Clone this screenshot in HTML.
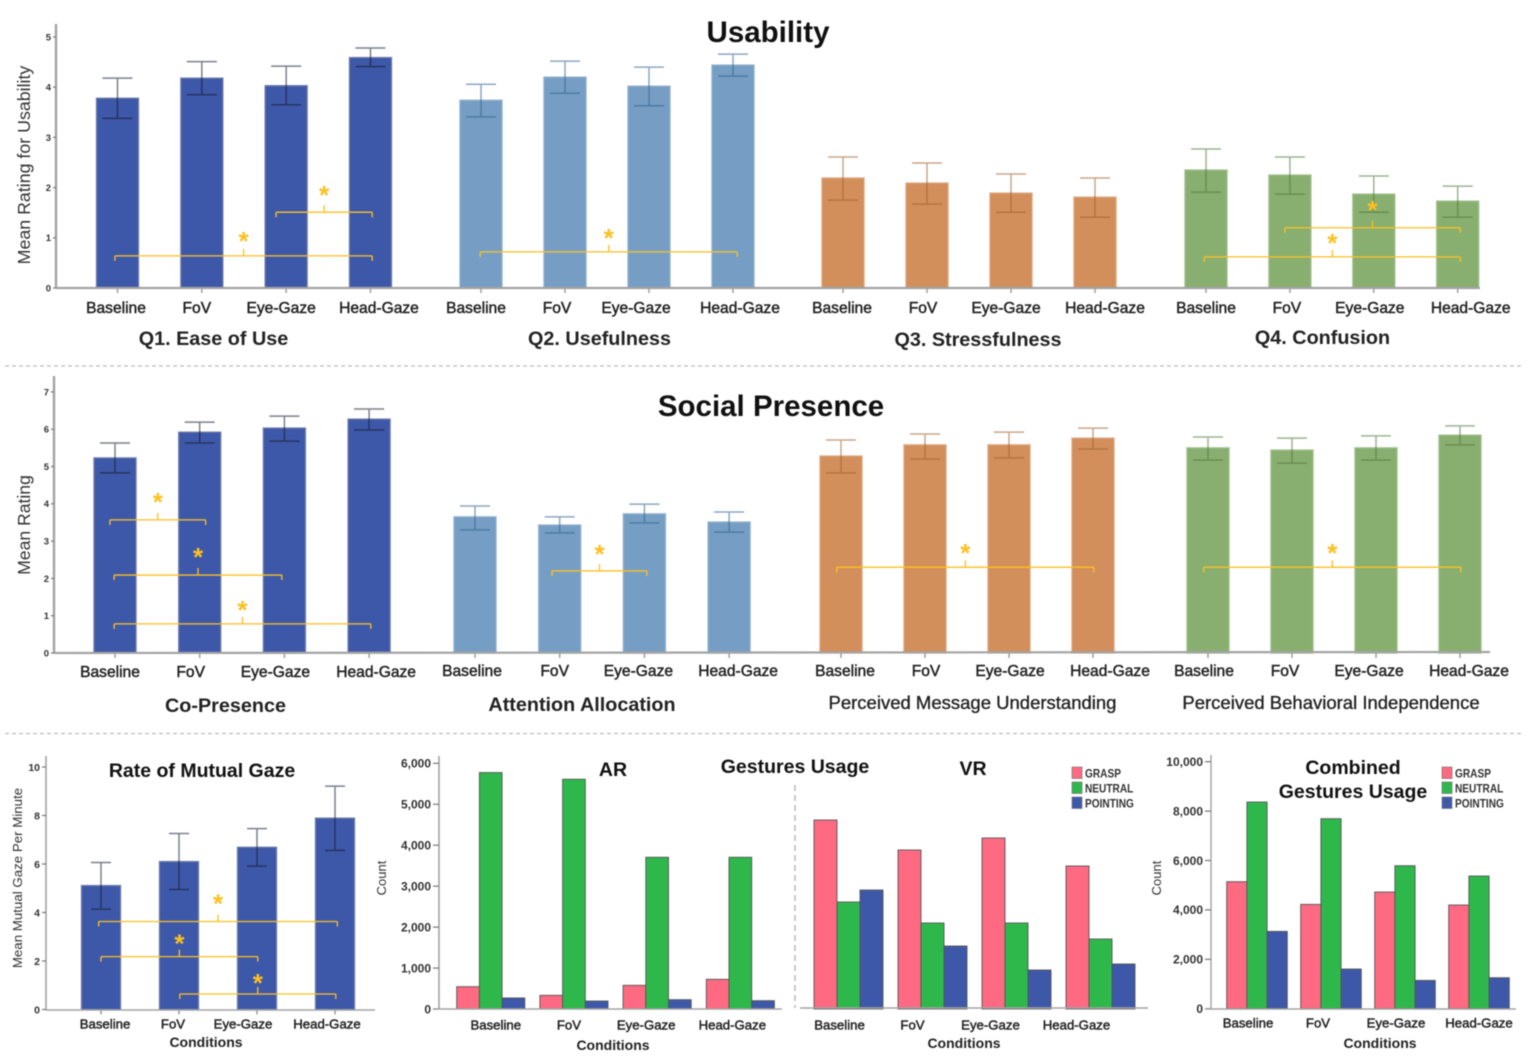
<!DOCTYPE html>
<html lang="en">
<head>
<meta charset="utf-8">
<title>Usability, Social Presence and Gesture Usage</title>
<style>
html,body{margin:0;padding:0;background:#fff;width:1535px;height:1062px;overflow:hidden}
svg{display:block;font-family:"Liberation Sans",Arial,sans-serif;filter:blur(.4px)}
.section{font-weight:bold;font-size:29.5px;fill:#111;text-anchor:middle}
.sub{font-weight:bold;font-size:19.8px;fill:#222;text-anchor:middle}
.subm{font-size:18.5px;fill:#222;text-anchor:middle;stroke:#222;stroke-width:.35}
.ctitle{font-weight:bold;font-size:19.5px;fill:#111;text-anchor:middle}
.ytitle{fill:#333;text-anchor:middle}
.cond{font-weight:bold;font-size:14px;fill:#222;text-anchor:middle}
</style>
</head>
<body>
<svg id="figure" width="1535" height="1062" viewBox="0 0 1535 1062" xmlns="http://www.w3.org/2000/svg">
  <rect x="0" y="0" width="1535" height="1062" fill="#fff"/>

  <text class="section" x="768" y="42">Usability</text>
  <text class="section" x="771" y="416">Social Presence</text>

  <line x1="5" y1="366" x2="1522" y2="366" stroke="#bdbdbd" stroke-width="1.2" stroke-dasharray="4 3"/>
  <line x1="5" y1="733.5" x2="1522" y2="733.5" stroke="#bdbdbd" stroke-width="1.2" stroke-dasharray="4 3"/>

  <text class="ytitle" font-size="17.8" transform="translate(30,165) rotate(-90)">Mean Rating for Usability</text>
  <text class="ytitle" font-size="17.6" transform="translate(30,525) rotate(-90)">Mean Rating</text>
  <text class="ytitle" font-size="13.3" transform="translate(22,878) rotate(-90)">Mean Mutual Gaze Per Minute</text>
  <text class="ytitle" font-size="13" transform="translate(386,878) rotate(-90)">Count</text>
  <text class="ytitle" font-size="13" transform="translate(1161,878) rotate(-90)">Count</text>

  <text class="sub" x="213.5" y="345">Q1. Ease of Use</text>
  <text class="sub" x="599.5" y="345">Q2. Usefulness</text>
  <text class="sub" x="978" y="346">Q3. Stressfulness</text>
  <text class="sub" x="1322.5" y="344">Q4. Confusion</text>

  <text class="sub" x="225.5" y="712">Co-Presence</text>
  <text class="sub" x="582" y="711">Attention Allocation</text>
  <text class="subm" x="972.5" y="709">Perceived Message Understanding</text>
  <text class="subm" x="1331" y="709">Perceived Behavioral Independence</text>

  <text class="ctitle" x="202" y="777">Rate of Mutual Gaze</text>
  <text class="ctitle" x="613" y="776">AR</text>
  <text class="ctitle" x="795" y="773">Gestures Usage</text>
  <text class="ctitle" x="973" y="775">VR</text>
  <text class="ctitle" x="1353" y="774">Combined</text>
  <text class="ctitle" x="1353" y="798">Gestures Usage</text>

  <text class="cond" x="206" y="1047">Conditions</text>
  <text class="cond" x="613" y="1050">Conditions</text>
  <text class="cond" x="964" y="1048">Conditions</text>
  <text class="cond" x="1380" y="1048">Conditions</text>

  <line x1="795" y1="785" x2="795" y2="1008" stroke="#b5b5b5" stroke-width="1.4" stroke-dasharray="6 4"/>
</svg>

<script>
const conditions = ['Baseline', 'FoV', 'Eye-Gaze', 'Head-Gaze'];
const usabilityTicks = [0, 1, 2, 3, 4, 5];
const socialTicks = [0, 1, 2, 3, 4, 5, 6, 7];
const gazeTicks = [0, 2, 4, 6, 8, 10];
const arTicks = [0, 1000, 2000, 3000, 4000, 5000, 6000];
const combinedTicks = [0, 2000, 4000, 6000, 8000, 10000];
const gestureNames = ['GRASP', 'NEUTRAL', 'POINTING'];

const q1Means = [3.78, 4.18, 4.03, 4.59];
const q1Upper = [4.18, 4.51, 4.42, 4.78];
const q1Lower = [3.38, 3.85, 3.65, 4.41];
const q2Means = [3.74, 4.2, 4.02, 4.44];
const q2Upper = [4.06, 4.52, 4.4, 4.66];
const q2Lower = [3.41, 3.88, 3.63, 4.22];
const q3Means = [2.19, 2.09, 1.89, 1.81];
const q3Upper = [2.61, 2.49, 2.27, 2.19];
const q3Lower = [1.75, 1.67, 1.51, 1.41];
const q4Means = [2.35, 2.25, 1.87, 1.73];
const q4Upper = [2.77, 2.61, 2.23, 2.03];
const q4Lower = [1.91, 1.87, 1.51, 1.41];

const coPresenceMeans = [5.23, 5.92, 6.03, 6.27];
const coPresenceUpper = [5.63, 6.19, 6.35, 6.54];
const coPresenceLower = [4.83, 5.63, 5.68, 5.98];
const attentionMeans = [3.65, 3.43, 3.73, 3.51];
const attentionUpper = [3.94, 3.65, 3.99, 3.78];
const attentionLower = [3.3, 3.22, 3.49, 3.24];
const messageMeans = [5.28, 5.58, 5.58, 5.76];
const messageUpper = [5.71, 5.87, 5.92, 6.03];
const messageLower = [4.83, 5.2, 5.23, 5.47];
const independenceMeans = [5.5, 5.44, 5.5, 5.84];
const independenceUpper = [5.79, 5.76, 5.82, 6.09];
const independenceLower = [5.17, 5.09, 5.17, 5.58];

const gazeMeans = [5.11, 6.1, 6.69, 7.89];
const gazeUpper = [6.06, 7.26, 7.46, 9.21];
const gazeLower = [4.14, 4.95, 5.91, 6.56];

const arGrasp = [545, 334, 578, 725];
const arNeutral = [5774, 5611, 3705, 3705];
const arPointing = [270, 195, 228, 204];
const vrGrasp = [4615, 3883, 4176, 3492];
const vrNeutral = [2613, 2100, 2100, 1709];
const vrPointing = [2906, 1538, 952, 1099];
const combinedGrasp = [5142, 4224, 4723, 4197];
const combinedNeutral = [8367, 7692, 5789, 5371];
const combinedPointing = [3131, 1606, 1147, 1255];

const svg = document.getElementById('figure');
const NS = 'http://www.w3.org/2000/svg';
const BLUE = '#3e58a9', SKY = '#769ec4', ORANGE = '#d28f5b', LEAF = '#89af70';
const PINK = '#fd6a82', GREEN = '#2eb84c', GOLD = '#fdc020';

function make(tag, parent, props) {
  const el = document.createElementNS(NS, tag);
  for (const k in props) el.setAttribute(k, props[k]);
  parent.appendChild(el);
  return el;
}
function yScale(axis, v) { return axis.zero - v * axis.unit; }
function xCenter(panel, i) { return panel.first + i * panel.pitch; }
function fmt(v) { return v.toLocaleString('en-US'); }

function drawYAxis(axis, ticks, name) {
  const g = make('g', svg, {});
  
  
  const spine = make('line', g, {x1: axis.x, x2: axis.x, y1: axis.top, y2: axis.zero, stroke: '#a3a3a3', 'stroke-width': axis.weight});
  
  
  ticks.forEach(t => {
    const y = yScale(axis, t);
    const tick = make('line', g, {x1: axis.x - axis.tick, x2: axis.x, y1: y, y2: y, stroke: '#777', 'stroke-width': 1.2});
    
    
    const label = make('text', g, {x: axis.x - axis.tick - 2, y: y + axis.font * 0.36, 'font-size': axis.font, 'font-weight': 'bold', fill: '#333', 'text-anchor': 'end'});
    label.textContent = fmt(t);
    
    
  });
}

function drawXAxis(name, x1, x2, y1, y2, weight) {
  const line = make('line', svg, {x1: x1, x2: x2, y1: y1, y2: y2, stroke: '#a3a3a3', 'stroke-width': weight});
  
  
}

function drawCategoryLabels(panel, centers) {
  conditions.forEach((c, i) => {
    const label = make('text', svg, {x: centers(i) + panel.shifts[i], y: panel.labelY, 'font-size': panel.labelSize, fill: '#222', stroke: '#222', 'stroke-width': 0.45, 'text-anchor': 'middle'});
    label.textContent = c;
    
    
  });
}

function drawBarPanel(panel) {
  const g = make('g', svg, {});
  
  
  const base = panel.axis.zero;
  panel.means.forEach((m, i) => {
    const cx = xCenter(panel, i);
    const top = yScale(panel.axis, m);
    const bar = make('rect', g, {x: cx - panel.width / 2, y: top, width: panel.width, height: base - top, fill: panel.fill, stroke: panel.edge, 'stroke-width': 1.3});
    
    
    const hi = yScale(panel.axis, panel.upper[i]);
    const lo = yScale(panel.axis, panel.lower[i]);
    const err = make('path', g, {d: 'M' + (cx - panel.cap) + ' ' + hi + 'H' + (cx + panel.cap) + 'M' + cx + ' ' + hi + 'V' + lo + 'M' + (cx - panel.cap) + ' ' + lo + 'H' + (cx + panel.cap), fill: 'none', stroke: panel.err, 'stroke-width': 1.5, 'stroke-opacity': 0.55});
    
    
    const tick = make('line', g, {x1: cx, x2: cx, y1: base, y2: base + 5, stroke: '#999', 'stroke-width': 1.4});
    
    
  });
  (panel.brackets || []).forEach(b => {
    const x1 = xCenter(panel, b.from), x2 = xCenter(panel, b.to), y = yScale(panel.axis, b.level), mid = (x1 + x2) / 2;
    const br = make('path', g, {d: 'M' + x1 + ' ' + (y + 5) + 'V' + (y + 1) + 'Q' + x1 + ' ' + y + ' ' + (x1 + 1) + ' ' + y + 'H' + (x2 - 1) + 'Q' + x2 + ' ' + y + ' ' + x2 + ' ' + (y + 1) + 'V' + (y + 5) + 'M' + mid + ' ' + y + 'V' + (y - 7), fill: 'none', stroke: GOLD, 'stroke-width': 1.3});
    
    
    const star = make('text', g, {x: mid, y: y - b.gap + 13, 'font-size': 26, 'font-weight': 'bold', fill: GOLD, 'text-anchor': 'middle'});
    star.textContent = '*';
    
    
  });
  drawCategoryLabels(panel, i => xCenter(panel, i));
}

function drawGesturePanel(panel) {
  const g = make('g', svg, {});
  
  
  const colors = [PINK, GREEN, BLUE];
  panel.series.forEach((values, s) => {
    values.forEach((v, i) => {
      const top = yScale(panel.axis, v);
      const bar = make('rect', g, {x: panel.first + i * panel.pitch + s * panel.width, y: top, width: panel.width, height: panel.axis.zero - top, fill: colors[s], stroke: '#555', 'stroke-width': 0.9});
      
      
    });
  });
  drawCategoryLabels(panel, i => panel.first + i * panel.pitch + panel.width * 1.5);
}

function drawLegend(name, x, y) {
  const g = make('g', svg, {});
  
  
  const colors = [PINK, GREEN, BLUE];
  gestureNames.forEach((n, i) => {
    const row = y + i * 15;
    const swatch = make('rect', g, {x: x, y: row, width: 10, height: 11.5, fill: colors[i], stroke: '#777', 'stroke-width': 0.7});
    
    
    const label = make('text', g, {transform: 'translate(' + (x + 13) + ',' + (row + 10.5) + ') scale(.88,1)', 'font-size': 11.5, 'font-weight': 'bold', fill: '#333'});
    label.textContent = n;
    
    
  });
}

const usabilityAxis = {x: 56, top: 24, zero: 288, unit: 50.2, tick: 3, font: 9.5, weight: 2.4};
const socialAxis = {x: 54, top: 376, zero: 653, unit: 37.3, tick: 3, font: 9.5, weight: 2.4};
const gazeAxis = {x: 46, top: 756, zero: 1009.5, unit: 24.25, tick: 4, font: 10.5, weight: 1.6};
const arAxis = {x: 439, top: 756, zero: 1009, unit: 245.7 / 6000, tick: 6, font: 12, weight: 1.6};
const combinedAxis = {x: 1211, top: 755, zero: 1008.7, unit: 247 / 10000, tick: 6, font: 12, weight: 1.4};

drawYAxis(usabilityAxis, usabilityTicks, 'usability');
drawYAxis(socialAxis, socialTicks, 'social');
drawYAxis(gazeAxis, gazeTicks, 'mutual-gaze');
drawYAxis(arAxis, arTicks, 'ar-gestures');
drawYAxis(combinedAxis, combinedTicks, 'combined-gestures');

const barPanels = [
  {name: 'q1', axis: usabilityAxis, first: 117.5, pitch: 84.33, width: 42, cap: 15, fill: BLUE, edge: '#6c7aa6', err: '#101828', means: q1Means, upper: q1Upper, lower: q1Lower, shifts: [-1.5, -5, -5, 8.5], labelY: 313, labelSize: 15.6, brackets: [{from: -0.03, to: 3.02, level: 0.64, gap: 19}, {from: 1.88, to: 3.02, level: 1.51, gap: 21}]},
  {name: 'q2', axis: usabilityAxis, first: 481, pitch: 84, width: 42, cap: 15, fill: SKY, edge: '#8fafcb', err: '#2f5f8c', means: q2Means, upper: q2Upper, lower: q2Lower, shifts: [-5, -8, -13, 7], labelY: 313, labelSize: 15.6, brackets: [{from: -0.01, to: 3.05, level: 0.72, gap: 18}]},
  {name: 'q3', axis: usabilityAxis, first: 843, pitch: 84, width: 42, cap: 15, fill: ORANGE, edge: '#dca57c', err: '#9c5c2e', means: q3Means, upper: q3Upper, lower: q3Lower, shifts: [-1, -4, -5, 10], labelY: 313, labelSize: 15.6},
  {name: 'q4', axis: usabilityAxis, first: 1206, pitch: 83.9, width: 42, cap: 15, fill: LEAF, edge: '#9fbd8b', err: '#4f7538', means: q4Means, upper: q4Upper, lower: q4Lower, shifts: [0, -3, -4, 13], labelY: 313, labelSize: 15.6, brackets: [{from: -0.02, to: 3.03, level: 0.62, gap: 18}, {from: 0.94, to: 3.03, level: 1.2, gap: 22}]},
  {name: 'co-presence', axis: socialAxis, first: 115, pitch: 84.7, width: 42, cap: 15, fill: BLUE, edge: '#6c7aa6', err: '#101828', means: coPresenceMeans, upper: coPresenceUpper, lower: coPresenceLower, shifts: [-5, -9, -9, 7], labelY: 677, labelSize: 15.6, brackets: [{from: -0.06, to: 1.07, level: 3.57, gap: 22}, {from: -0.01, to: 1.97, level: 2.09, gap: 22}, {from: -0.01, to: 3.02, level: 0.78, gap: 18}]},
  {name: 'attention-allocation', axis: socialAxis, first: 475, pitch: 84.7, width: 42, cap: 15, fill: SKY, edge: '#8fafcb', err: '#2f5f8c', means: attentionMeans, upper: attentionUpper, lower: attentionLower, shifts: [-3, -5, -6, 9], labelY: 676, labelSize: 15.6, brackets: [{from: 0.91, to: 2.03, level: 2.2, gap: 21}]},
  {name: 'message-understanding', axis: socialAxis, first: 841, pitch: 84, width: 42, cap: 15, fill: ORANGE, edge: '#dca57c', err: '#9c5c2e', means: messageMeans, upper: messageUpper, lower: messageLower, shifts: [4, 1, 1, 17], labelY: 676, labelSize: 15.6, brackets: [{from: -0.05, to: 3.01, level: 2.3, gap: 18}]},
  {name: 'behavioral-independence', axis: socialAxis, first: 1208, pitch: 84, width: 42, cap: 15, fill: LEAF, edge: '#9fbd8b', err: '#4f7538', means: independenceMeans, upper: independenceUpper, lower: independenceLower, shifts: [-4, -7, -7, 9], labelY: 676, labelSize: 15.6, brackets: [{from: -0.05, to: 3.01, level: 2.3, gap: 18}]},
  {name: 'mutual-gaze', axis: gazeAxis, first: 101, pitch: 78, width: 39, cap: 10, fill: BLUE, edge: '#6c7aa6', err: '#101828', means: gazeMeans, upper: gazeUpper, lower: gazeLower, shifts: [4, -6, -14, -8], labelY: 1028.5, labelSize: 13.2, brackets: [{from: -0.03, to: 3.03, level: 3.63, gap: 22}, {from: 0, to: 2.01, level: 2.18, gap: 17}, {from: 1.01, to: 3.01, level: 0.64, gap: 15}]}
];
barPanels.forEach(drawBarPanel);

const gesturePanels = [
  {name: 'ar-gestures', axis: arAxis, first: 456.7, pitch: 83.2, width: 22.7, series: [arGrasp, arNeutral, arPointing], shifts: [5, -5, -11, -8], labelY: 1029.5, labelSize: 13.2},
  {name: 'vr-gestures', axis: arAxis, first: 814, pitch: 84, width: 23, series: [vrGrasp, vrNeutral, vrPointing], shifts: [-9, -20, -26, -24], labelY: 1029.5, labelSize: 13.2},
  {name: 'combined-gestures', axis: combinedAxis, first: 1226.7, pitch: 74, width: 20.2, series: [combinedGrasp, combinedNeutral, combinedPointing], shifts: [-9, -13, -9, 0], labelY: 1027.5, labelSize: 13.2}
];
gesturePanels.forEach(drawGesturePanel);

drawXAxis('usability', 56, 1480, 288, 288, 2.2);
drawXAxis('social', 54, 1490, 653, 652, 2.2);
drawXAxis('mutual-gaze', 46, 375, 1010, 1010, 1.6);
drawXAxis('ar-gestures', 436, 782, 1009, 1009, 1.6);
drawXAxis('vr-gestures', 800, 1148, 1008, 1008, 1.6);
drawXAxis('combined-gestures', 1205, 1516, 1009, 1009, 1.5);

drawLegend('ar-vr-legend', 1072, 767);
drawLegend('combined-legend', 1442, 767);
</script>
</body>
</html>
